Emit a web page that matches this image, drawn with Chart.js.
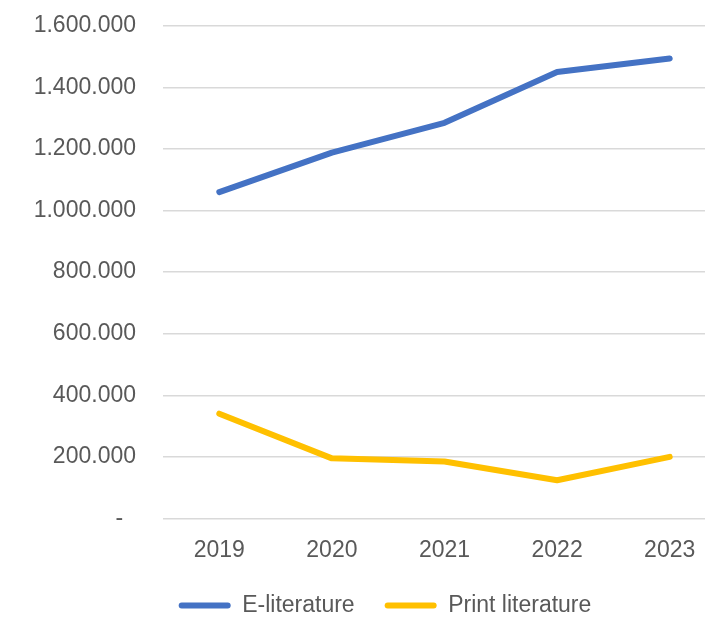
<!DOCTYPE html>
<html>
<head>
<meta charset="utf-8">
<script src="https://cdn.jsdelivr.net/npm/chart.js@4"></script>
<style>
  html, body { margin: 0; padding: 0; background: #fff; overflow: hidden; }
  #wrap { position: relative; top: -15px; width: 726px; height: 656px; }
</style>
</head>
<body>
<div id="wrap"><canvas id="chart"></canvas></div>
<script>
const years = ["2019", "2020", "2021", "2022", "2023"];
const eLiterature = [1060000, 1188000, 1285000, 1450000, 1494000];
const printLiterature = [340000, 195000, 185000, 124000, 200000];
const yTicks = [0, 200000, 400000, 600000, 800000, 1000000, 1200000, 1400000, 1600000];

const grey = "#595959";
const font = { family: "'Liberation Sans', Arial, sans-serif", size: 23 };

// excel style: 1.600.000, zero shown as dash
function fmt(v) {
  if (v === 0) return "-  ";
  return v.toString().replace(/\B(?=(\d{3})+(?!\d))/g, ".");
}

// legend in the reference sits a bit right of the canvas centre and closer to the axis
const shiftLegend = {
  id: "shiftLegend",
  afterLayout(chart) {
    const lg = chart.legend;
    lg.left += 22;
    lg.right += 22;
    lg.top -= 10;
    lg.bottom -= 10;
  }
};

new Chart(document.getElementById("chart"), {
  type: "line",
  data: {
    labels: years,
    datasets: [
      {
        label: "E-literature",
        data: eLiterature,
        borderColor: "#4472C4",
        backgroundColor: "#4472C4",
        borderWidth: 6,
        borderCapStyle: "round",
        borderJoinStyle: "round",
        pointRadius: 0,
        tension: 0
      },
      {
        label: "Print literature",
        data: printLiterature,
        borderColor: "#FFC000",
        backgroundColor: "#FFC000",
        borderWidth: 6,
        borderCapStyle: "round",
        borderJoinStyle: "round",
        pointRadius: 0,
        tension: 0
      }
    ]
  },
  options: {
    responsive: true,
    maintainAspectRatio: false,
    animation: false,
    layout: { padding: { top: 0, left: 0, right: 0, bottom: 4 } },
    plugins: {
      tooltip: { enabled: false },
      legend: {
        position: "bottom",
        labels: {
          color: grey,
          font: font,
          boxWidth: 52,
          boxHeight: 6,
          useBorderRadius: true,
          borderRadius: 3,
          padding: 30,
          generateLabels(chart) {
            return chart.data.datasets.map((ds, i) => ({
              text: ds.label,
              fillStyle: ds.borderColor,
              strokeStyle: ds.borderColor,
              lineWidth: 0,
              fontColor: grey,
              borderRadius: 3,
              datasetIndex: i
            }));
          }
        }
      }
    },
    scales: {
      x: {
        offset: true,
        grid: { display: false },
        border: { display: false },
        ticks: { color: grey, font: font, padding: 10 }
      },
      y: {
        min: 0,
        max: 1600000,
        afterFit(axis) { axis.width = 163; },
        afterBuildTicks(axis) { axis.ticks = yTicks.map(v => ({ value: v })); },
        grid: { color: "#D9D9D9", lineWidth: 1.5, drawTicks: false },
        border: { display: false },
        ticks: { color: grey, font: font, padding: 27, callback: fmt }
      }
    }
  },
  plugins: [shiftLegend]
});
</script>
</body>
</html>
